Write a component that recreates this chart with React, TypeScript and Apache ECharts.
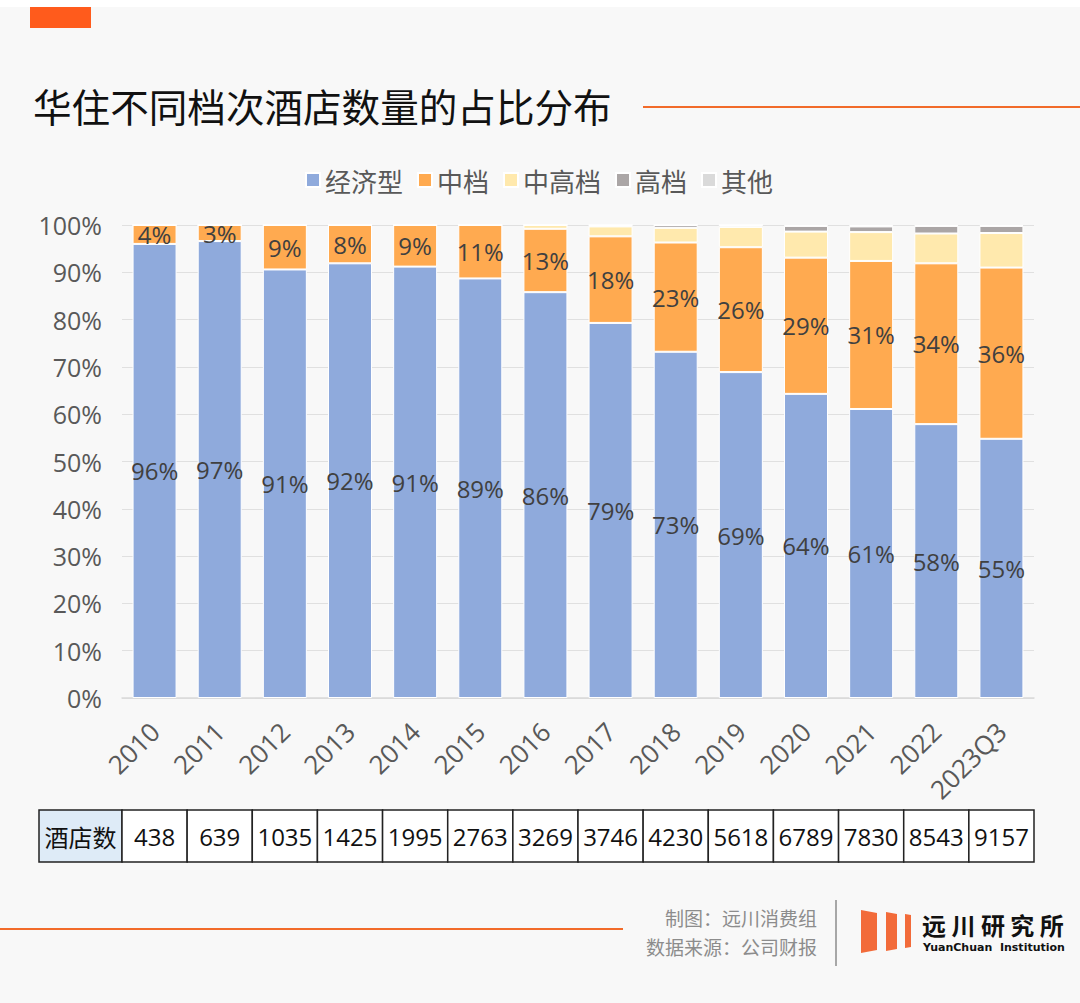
import React, { useEffect, useRef } from "react";
import * as echarts from "echarts";

const categories = ["2010","2011","2012","2013","2014","2015","2016","2017","2018","2019","2020","2021","2022","2023Q3"];
const economy = [96.0, 96.6, 90.6, 91.9, 91.2, 88.7, 85.8, 79.3, 73.2, 68.9, 64.3, 61.1, 57.9, 54.8];
const midscale = [4.0, 3.4, 9.4, 8.1, 8.8, 11.3, 13.4, 18.3, 23.1, 26.4, 28.8, 31.3, 34.0, 36.2];
const upperMid = [0, 0, 0, 0, 0, 0, 0.8, 2.1, 3.1, 4.3, 5.5, 6.1, 6.3, 7.3];
const upscale = [0, 0, 0, 0, 0, 0, 0, 0.3, 0.6, 0.4, 1.2, 1.2, 1.6, 1.5];
const others = [0, 0, 0, 0, 0, 0, 0, 0, 0, 0, 0.2, 0.3, 0.2, 0.2];
const hotelCounts = [438, 639, 1035, 1425, 1995, 2763, 3269, 3746, 4230, 5618, 6789, 7830, 8543, 9157];
const seriesNames = ["经济型", "中档", "中高档", "高档", "其他"];
const yTicks = { min: 0, max: 100, interval: 10 };

const FONT = "'Open Sans', 'Noto Sans CJK SC', sans-serif";
const CJK = "'Noto Sans CJK SC', 'Open Sans', sans-serif";

export default function App() {
  const ref = useRef<HTMLDivElement>(null);
  useEffect(() => {
    document.body.style.margin = "0";
    const chart = echarts.init(ref.current!, null, { renderer: "svg" });
    const gridLeft = 122;
    const gridRight = 1034;
    const slot = (gridRight - gridLeft) / categories.length;
    const tableTop = 810;
    const tableH = 52;

    const tableEls: any[] = [];
    tableEls.push({
      type: "rect",
      shape: { x: 39, y: tableTop, width: gridLeft - 39, height: tableH },
      style: { fill: "#DEEBF7", stroke: "#222", lineWidth: 1.5 },
    });
    tableEls.push({
      type: "text",
      x: (39 + gridLeft) / 2, y: tableTop + tableH / 2,
      style: { text: "酒店数", font: `24px ${CJK}`, fill: "#111", align: "center", verticalAlign: "middle" },
    });
    hotelCounts.forEach((v, i) => {
      const x = gridLeft + i * slot;
      tableEls.push({
        type: "rect",
        shape: { x, y: tableTop, width: slot, height: tableH },
        style: { fill: "#ffffff", stroke: "#222", lineWidth: 1.5 },
      });
      tableEls.push({
        type: "text",
        x: x + slot / 2, y: tableTop + tableH / 2,
        style: { text: String(v), font: `24px ${FONT}`, fill: "#111", align: "center", verticalAlign: "middle" },
      });
    });

    const labelFmt = (p: any) => (p.value > 0 ? Math.round(p.value) + "%" : "");
    const colors = ["#8FAADC", "#FFAA50", "#FFE9AD", "#ABA6A6", "#DADADA"];
    const dataSets = [economy, midscale, upperMid, upscale, others];

    chart.setOption({
      animation: false,
      backgroundColor: "#F8F8F8",
      textStyle: { fontFamily: FONT },
      color: colors,
      legend: {
        top: 162,
        left: 300,
        itemWidth: 14,
        itemHeight: 14,
        itemGap: 14,
        icon: "rect",
        textStyle: { fontSize: 26, color: "#595959", fontFamily: CJK },
        data: seriesNames,
      },
      grid: { left: gridLeft, right: 1080 - gridRight, top: 225, bottom: 1003 - 698, containLabel: false },
      xAxis: {
        type: "category",
        data: categories,
        axisTick: { show: false },
        axisLine: { lineStyle: { color: "#D9D9D9", width: 1.5 } },
        axisLabel: { rotate: 45, fontSize: 26, color: "#595959", margin: 29, interval: 0 },
      },
      yAxis: {
        type: "value",
        min: yTicks.min,
        max: yTicks.max,
        interval: yTicks.interval,
        axisLine: { show: false },
        axisTick: { show: false },
        splitLine: { lineStyle: { color: "#E0E0E0", width: 1 } },
        axisLabel: { formatter: "{value}%", fontSize: 25, color: "#595959", margin: 20 },
      },
      series: dataSets.map((d, i) => ({
        name: seriesNames[i],
        type: "bar",
        stack: "total",
        barWidth: 44,
        data: d,
        itemStyle: { borderColor: "#ffffff", borderWidth: 1 },
        label: {
          show: i < 2,
          position: "inside",
          formatter: labelFmt,
          fontSize: 24,
          color: "#404040",
          fontFamily: FONT,
        },
      })),
      graphic: [
        { type: "rect", shape: { x: 0, y: 0, width: 1080, height: 7 }, style: { fill: "#ffffff" } },
        { type: "rect", shape: { x: 30, y: 7, width: 61, height: 21 }, style: { fill: "#FF5B1C" } },
        {
          type: "text", x: 33, y: 105,
          style: { text: "华住不同档次酒店数量的占比分布", font: `38.6px ${CJK}`, fill: "#111", verticalAlign: "middle" },
        },
        { type: "line", shape: { x1: 643, y1: 107, x2: 1080, y2: 107 }, style: { stroke: "#F26B2A", lineWidth: 2 } },
        ...tableEls,
        { type: "line", shape: { x1: 0, y1: 929, x2: 623, y2: 929 }, style: { stroke: "#F26B2A", lineWidth: 2 } },
        {
          type: "text", x: 817, y: 917,
          style: { text: "制图：远川消费组", font: `19px ${CJK}`, fill: "#8C8C8C", align: "right", verticalAlign: "middle" },
        },
        {
          type: "text", x: 817, y: 946,
          style: { text: "数据来源：公司财报", font: `19px ${CJK}`, fill: "#8C8C8C", align: "right", verticalAlign: "middle" },
        },
        { type: "line", shape: { x1: 836, y1: 900, x2: 836, y2: 966 }, style: { stroke: "#8C8C8C", lineWidth: 1.5 } },
        { type: "polygon", shape: { points: [[861, 910], [877, 913], [877, 950], [861, 953]] }, style: { fill: "#F26B3A" } },
        { type: "polygon", shape: { points: [[886, 912], [897, 914], [897, 949], [886, 951]] }, style: { fill: "#F26B3A" } },
        { type: "polygon", shape: { points: [[905, 914], [911, 915], [911, 947], [905, 948]] }, style: { fill: "#F26B3A" } },
        {
          type: "text", x: 922, y: 924,
          style: { text: "远 川 研 究 所", font: `bold 24px ${CJK}`, fill: "#111", verticalAlign: "middle" },
        },
        {
          type: "text", x: 923, y: 947,
          style: { text: "YuanChuan  Institution", font: `bold 11px 'DejaVu Sans', sans-serif`, fill: "#111", verticalAlign: "middle" },
        },
      ],
    });
    return () => chart.dispose();
  }, []);
  return <div ref={ref} style={{ position: "fixed", left: 0, top: 0, width: 1080, height: 1003 }} />;
}
